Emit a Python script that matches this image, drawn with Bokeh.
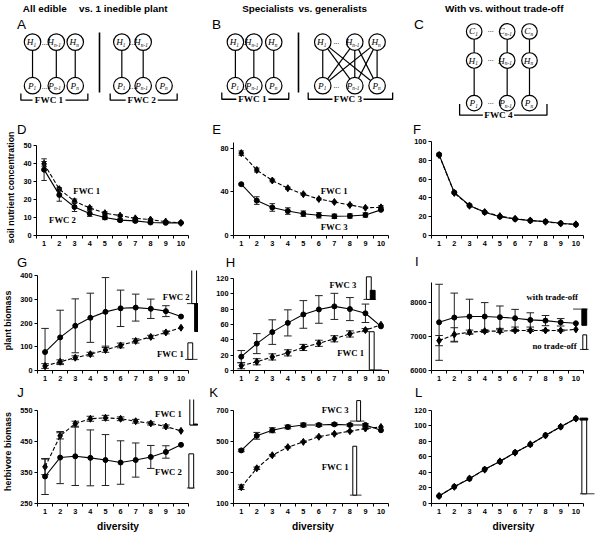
from bokeh.plotting import figure
from bokeh.layouts import column, row
from bokeh.models import Range1d, FixedTicker, Label
from bokeh.core.properties import value
from bokeh.embed import file_html
from bokeh.resources import INLINE

S = 0.97
SANS = "Liberation Sans"
SERIF = "Liberation Serif"


def px(v):
    return int(round(v * S))


def fs(v):
    return f"{v * S:.1f}px"


# ---------------------------------------------------------------- data
diversity = [1, 2, 3, 4, 5, 6, 7, 8, 9, 10]

# D  soil nutrient concentration
D_fwc1 = [39.7, 25.7, 19.0, 15.3, 12.4, 11.0, 9.5, 8.8, 7.7, 7.0]
D_fwc1_err = [1.3, 0.8, 1.2, 0.8, 0.7, 0.6, 0.5, 0.4, 0.4, 0.3]
D_fwc2 = [36.5, 22.5, 15.8, 12.2, 10.0, 8.5, 8.1, 7.2, 7.0, 7.0]
D_fwc2_err = [6.0, 3.5, 2.5, 1.6, 1.2, 0.8, 0.7, 0.5, 0.4, 0.3]
# E
E_fwc1 = [75.5, 60.0, 50.4, 43.3, 37.9, 33.4, 30.7, 28.0, 25.4, 25.8]
E_fwc1_err = [2.0, 1.8, 1.2, 1.0, 0.8, 0.8, 0.7, 0.7, 0.6, 1.5]
E_fwc3 = [47.0, 32.0, 25.7, 22.4, 20.0, 18.5, 17.6, 17.9, 18.8, 23.5]
E_fwc3_err = [0.8, 3.5, 3.5, 3.0, 2.5, 2.5, 2.0, 2.0, 2.0, 0.5]
# F
F_with = [85.9, 45.7, 32.0, 24.7, 20.0, 17.5, 15.8, 14.8, 13.0, 11.7]
F_without = [85.5, 45.2, 31.6, 24.9, 20.6, 17.8, 16.0, 14.6, 12.7, 11.9]
F_err = [1.5, 1.0, 1.0, 0.8, 0.6, 0.5, 0.4, 0.4, 0.3, 0.3]
# G  plant biomass
G_fwc2 = [78, 140, 189, 223, 248, 263, 266, 261, 251, 228]
G_fwc2_err = [100, 115, 114, 104, 145, 77, 57, 41, 23, 0]
G_fwc1 = [19, 37, 54, 69, 87, 106, 125, 142, 161, 181]
G_fwc1_err = [10, 8, 8, 8, 10, 10, 9, 7, 6, 0]
# H
H_fwc3 = [18, 35, 50, 62, 73, 79.5, 83.5, 80, 74.5, 57.5]
H_fwc3_err = [8, 13, 16, 17, 18, 18, 17, 15, 12, 0]
H_fwc1 = [6.3, 11.4, 17.7, 23, 30, 35.4, 41.3, 47.6, 52.6, 59.5]
H_fwc1_err = [4, 4, 4, 4, 4, 4, 4, 4, 2, 0]
# I
I_with = [7420, 7560, 7590, 7590, 7570, 7540, 7490, 7470, 7420, 7390]
I_with_err = [1120, 720, 510, 410, 330, 260, 210, 150, 110, 0]
I_without = [6880, 7060, 7130, 7160, 7160, 7180, 7180, 7180, 7180, 7210]
I_without_err = [150, 200, 60, 40, 40, 30, 30, 20, 20, 0]
# J  herbivore biomass
J_fwc1 = [368, 468, 507, 523, 526, 523, 515, 508, 498, 484]
J_fwc1_err = [25, 10, 8, 8, 8, 6, 6, 5, 5, 0]
J_fwc2 = [337, 398, 402, 397, 390, 382, 390, 400, 416, 439]
J_fwc2_err = [58, 84, 94, 90, 82, 70, 55, 37, 20, 0]
# K
K_fwc3 = [442, 536, 572, 593, 606, 606, 610, 606, 606, 572]
K_fwc3_err = [8, 22, 16, 12, 12, 10, 8, 8, 8, 0]
K_fwc1 = [205, 327, 411, 463, 497, 530, 549, 566, 583, 593]
K_fwc1_err = [15, 8, 5, 5, 4, 4, 4, 4, 4, 0]
# L
L_with = [9.6, 21.7, 32, 44, 54, 65.8, 76, 88, 98.8, 109.6]
L_without = [9.8, 21.5, 32.3, 43.6, 54.3, 65.5, 76.3, 87.6, 99.0, 109.4]

# inset bars: (baseline, white bar (lo, hi), black bar (lo, hi))
G_inset = [(283, (283, 430), (165, 283)), (47, (47, 117), None)]
H_inset = [(92.6, (92.6, 122), (92.6, 104.4)), (0.8, (0.8, 50.5), None)]
I_inset = [(7809, None, (7330, 7809)), (6620, (6620, 7050), None)]
J_inset = [(503, (503, 594), (503, 506)), (300, (300, 410), None)]
K_inset = [(631, (631, 763), None), (154, (154, 469), None)]
L_inset = [(12.5, (12.5, 109.6), (107.5, 110.0))]

# ---------------------------------------------------------------- layout (reference pixels)
COLS = [dict(x0=0, x1=204, axis=37.0, k=15.67),
        dict(x0=204, x1=404, axis=240.0, k=16.0),
        dict(x0=404, x1=613, axis=444.0, k=15.67)]
TOP_H = 125
ROWS = [dict(y0=TOP_H, y1=278, ft=144, fb=243),
        dict(y0=278, y1=411, ft=278, fb=381.5),
        dict(y0=411, y1=551, ft=411, fb=518)]


def chart(ci, ri, ycal, yticks, ytop, ylabel=None, xlabel=None):
    c, r = COLS[ci], ROWS[ri]
    W = px(c["x1"]) - px(c["x0"])
    H = px(r["y1"]) - px(r["y0"])
    bl = px(c["axis"] - c["x0"])
    bt = px(r["ft"] - r["y0"])
    fh = px(r["fb"] - r["ft"])
    bb = H - bt - fh
    ymin, ymax, pmin, pmax = ycal
    dpp = (ymax - ymin) / (pmin - pmax)
    x_end = 0.5 + (W - bl) / S / c["k"]
    y_end = ymin + fh / S * dpp
    p = figure(width=W, height=H, x_range=Range1d(0.5, x_end), y_range=Range1d(ymin, y_end),
               output_backend="svg", toolbar_location=None,
               min_border_left=bl, min_border_right=0, min_border_top=bt, min_border_bottom=bb,
               outline_line_color=None, background_fill_color="white", border_fill_color="white")
    p.grid.visible = False
    xa, ya = p.xaxis[0], p.yaxis[0]
    xa.ticker = FixedTicker(ticks=diversity, minor_ticks=[i + 0.5 for i in range(0, 11)])
    xa.bounds = (0.5, 10.5)
    xa.major_tick_line_color = None
    xa.major_tick_out = 0
    xa.major_tick_in = 0
    xa.minor_tick_out = 3
    xa.minor_tick_in = 0
    xa.minor_tick_line_color = "black"
    xa.major_label_standoff = 2
    ya.ticker = FixedTicker(ticks=yticks)
    ya.bounds = (ymin, ytop)
    ya.major_tick_out = 3
    ya.major_tick_in = 0
    ya.minor_tick_line_color = None
    ya.major_label_standoff = 2
    for a in (xa, ya):
        a.axis_line_color = "black"
        a.axis_line_width = 1
        a.major_label_text_font = SANS
        a.major_label_text_font_style = "bold"
        a.major_label_text_font_size = fs(7.5)
        a.major_label_text_color = "black"
        a.axis_label_text_font = SANS
        a.axis_label_text_font_style = "bold"
        a.axis_label_text_color = "black"
    if ylabel:
        ya.axis_label = ylabel
        ya.axis_label_text_font_size = fs(9.2)
        ya.axis_label_standoff = 4
    if xlabel:
        xa.axis_label = xlabel
        xa.axis_label_text_font_size = fs(10.5)
        xa.axis_label_standoff = 4

    def xd(x):
        return 0.5 + (x - c["axis"]) / c["k"]

    def yd(y):
        return ymin + (r["fb"] - y) * dpp

    return p, xd, yd


def add_series(p, y, err, dashed, marker="circle", size=5, cap=0.22):
    p.line(diversity, y, line_color="black", line_width=1.1,
           line_dash="4 2" if dashed else "solid")
    if err is not None:
        idx = [i for i, e in enumerate(err) if e > 0]
        xs = [diversity[i] for i in idx]
        lo = [y[i] - err[i] for i in idx]
        hi = [y[i] + err[i] for i in idx]
        p.segment(xs, lo, xs, hi, line_color="#222222", line_width=1)
        p.segment([x - cap for x in xs], hi, [x + cap for x in xs], hi,
                  line_color="#222222", line_width=1)
        p.segment([x - cap for x in xs], lo, [x + cap for x in xs], lo,
                  line_color="#222222", line_width=1)
    p.scatter(diversity, y, marker=marker, size=size, fill_color="black", line_color="black")


def add_inset(p, xd, item, geom):
    base, white, black = item
    if base is not None:
        p.segment([xd(geom["l"][0])], [base], [xd(geom["l"][1])], [base],
                  line_color="#333333", line_width=1)
    if white is not None:
        p.quad(left=[xd(geom["w"][0])], right=[xd(geom["w"][1])], bottom=[white[0]], top=[white[1]],
               fill_color="white", line_color="black", line_width=1)
    if black is not None:
        p.quad(left=[xd(geom["b"][0])], right=[xd(geom["b"][1])], bottom=[black[0]], top=[black[1]],
               fill_color="black", line_color="black", line_width=1)


def add_text(p, xd, yd, txt, x, y, size=9):
    p.text([xd(x)], [yd(y)], text=[txt], text_font=value(SERIF), text_font_style="bold",
           text_font_size=fs(size), text_align="left", text_baseline="middle", text_color="black")


def add_letter(p, xd, yd, txt, x, y, side):
    """panel letter, put in a side panel of the figure so that it is not clipped to the frame"""
    p.add_layout(Label(x=xd(x), y=yd(y), text=txt, text_font=SANS, text_font_size=fs(13.5),
                       text_align="left", text_baseline="middle", text_color="black"), side)


# ---------------------------------------------------------------- top diagrams
top = figure(width=px(613), height=px(TOP_H), x_range=Range1d(0, 613), y_range=Range1d(TOP_H, 0),
             x_axis_type=None, y_axis_type=None, toolbar_location=None, output_backend="svg",
             min_border=0, outline_line_color=None, background_fill_color="white",
             border_fill_color="white")

SUBS = ["1", "n-1", "n"]
webs = []
a1 = [33, 57.5, 77]
webs.append(dict(nodes=[("H", 43, a1, [0, 1, 2]), ("P", 88, a1, [0, 1, 2])],
                 edges=[((a1[i], 43), (a1[i], 88)) for i in range(3)], r=8.5))
a2 = [125, 147, 168.5]
webs.append(dict(nodes=[("H", 43, a2, [0, 1]), ("P", 88, a2, [0, 1, 2])],
                 edges=[((a2[i], 43), (a2[i], 88)) for i in range(2)], r=8.5))
b1 = [242, 261, 281.5]
webs.append(dict(nodes=[("H", 43, b1, [0, 1, 2]), ("P", 88, b1, [0, 1, 2])],
                 edges=[((b1[i], 43), (b1[i], 88)) for i in range(3)], r=8.5))
b3 = [332, 365, 388]
webs.append(dict(nodes=[("H", 43, b3, [0, 1, 2]), ("P", 88, b3, [0, 1, 2])],
                 edges=[((b3[i], 43), (b3[j], 88)) for i in range(3) for j in range(3)], r=8.5))
c4 = [488, 522, 545]
webs.append(dict(nodes=[("C", 32, c4, [0, 1, 2]), ("H", 62, c4, [0, 1, 2]), ("P", 106, c4, [0, 1, 2])],
                 edges=[((c4[i], 32), (c4[i], 62)) for i in range(3)] +
                       [((c4[i], 62), (c4[i], 106)) for i in range(3)], r=8))

for w in webs:
    top.segment([e[0][0] for e in w["edges"]], [e[0][1] for e in w["edges"]],
                [e[1][0] for e in w["edges"]], [e[1][1] for e in w["edges"]],
                line_color="black", line_width=1.2)
    for letter, yy, xs, present in w["nodes"]:
        cx = [xs[i] for i in present]
        top.circle(cx, [yy] * len(cx), radius=w["r"], fill_color="white", line_color="black",
                   line_width=1.2)
        subs = [SUBS[i] for i in present]
        lx = [x + (1.0 if len(s) == 1 else -2.5) for x, s in zip(cx, subs)]
        top.text(lx, [yy] * len(cx), text=[letter] * len(cx), text_font=value(SERIF),
                 text_font_style="italic", text_font_size=fs(9.5), text_align="right",
                 text_baseline="middle", text_color="black")
        top.text(lx, [yy + 2.8] * len(cx), text=subs, text_font=value(SERIF),
                 text_font_style="italic", text_font_size=fs(5.5), text_align="left",
                 text_baseline="middle", text_color="black")

dots_x = [45.5, 45.5, 136, 136, 251.5, 251.5, 346, 346, 505, 505, 505]
dots_y = [46, 91, 46, 91, 46, 92, 45, 90, 33, 63, 107]
top.text(dots_x, dots_y, text=["..."] * len(dots_x), text_font=value(SERIF), text_font_size=fs(8),
         text_align="center", text_baseline="bottom", text_color="black")

top.segment([102, 307], [33, 33], [102, 307], [95, 95], line_color="black", line_width=1.6)

brackets = [(21, 90, 103, 96, 33, 67, "FWC 1", 50),
            (113, 182, 103, 96, 129, 162, "FWC 2", 145.5),
            (228, 297, 102, 95, 243, 276, "FWC 1", 259.5),
            (317, 404, 102, 95, 342, 374, "FWC 3", 358),
            (473, 563, 118.5, 107, 497, 529, "FWC 4", 513)]
for x0, x1, yb, yt, gl, gr, lab, lxc in brackets:
    top.multi_line([[x0, x0, gl], [gr, x1, x1]], [[yt, yb, yb], [yb, yb, yt]],
                   line_color="black", line_width=1.3)
    top.text([lxc], [yb], text=[lab], text_font=value(SERIF), text_font_style="bold",
             text_font_size=fs(9.5), text_align="center", text_baseline="middle", text_color="black")

titles = [("All edible", 23), ("vs. 1 inedible plant", 81), ("Specialists", 249),
          ("vs. generalists", 307), ("With vs. without trade-off", 458)]
top.text([t[1] for t in titles], [8] * len(titles), text=[t[0] for t in titles],
         text_font=value(SANS), text_font_style="bold", text_font_size=fs(10.2),
         text_align="left", text_baseline="middle", text_color="black")
top.text([17, 218, 426], [25, 25, 25], text=["A", "B", "C"], text_font=value(SANS),
         text_font_size=fs(14), text_align="left", text_baseline="middle", text_color="black")

# ---------------------------------------------------------------- charts
# D
pD, xd, yd = chart(0, 0, (0, 50, 243, 150), [0, 10, 20, 30, 40, 50], 50,
                   ylabel="soil nutrient concentration")
add_series(pD, D_fwc1, D_fwc1_err, True, "diamond", 7, 0.18)
add_series(pD, D_fwc2, D_fwc2_err, False, "circle", 5, 0.18)
add_text(pD, xd, yd, "FWC 1", 75, 197)
add_text(pD, xd, yd, "FWC 2", 50, 227)
add_letter(pD, xd, yd, "D", 17, 134, "above")
add_letter(pD, xd, yd, "G", 17, 271, "below")

# E
pE, xd, yd = chart(1, 0, (0, 80, 243, 153), [0, 40, 80], 85)
add_series(pE, E_fwc1, E_fwc1_err, True, "diamond", 7, 0.18)
add_series(pE, E_fwc3, E_fwc3_err, False, "circle", 5, 0.18)
add_text(pE, xd, yd, "FWC 1", 330, 197)
add_text(pE, xd, yd, "FWC 3", 330, 234)
add_letter(pE, xd, yd, "E", 218, 134, "above")
add_letter(pE, xd, yd, "H", 232, 271, "below")

# F
pF, xd, yd = chart(2, 0, (0, 100, 243, 146), [0, 20, 40, 60, 80, 100], 100)
add_series(pF, F_without, None, True, "diamond", 7)
add_series(pF, F_with, F_err, False, "circle", 5, 0.18)
add_letter(pF, xd, yd, "F", 425, 134, "above")
add_letter(pF, xd, yd, "I", 427, 270, "below")

# G
pG, xd, yd = chart(0, 1, (0, 400, 381.5, 284), [0, 100, 200, 300, 400], 400,
                   ylabel="plant biomass")
add_series(pG, G_fwc2, G_fwc2_err, False, "circle", 5, 0.25)
add_series(pG, G_fwc1, G_fwc1_err, True, "diamond", 7, 0.25)
add_inset(pG, xd, G_inset[0], dict(l=(192, 204), w=(197, 202), b=(200, 204)))
add_inset(pG, xd, G_inset[1], dict(l=(190, 203), w=(193, 198), b=(198, 202)))
add_text(pG, xd, yd, "FWC 2", 167, 306)
add_text(pG, xd, yd, "FWC 1", 161, 364)
add_letter(pG, xd, yd, "J", 16, 404, "below")

# H
pH, xd, yd = chart(1, 1, (0, 120, 382, 287), [0, 20, 40, 60, 80, 100, 120], 120)
add_series(pH, H_fwc3, H_fwc3_err, False, "circle", 5, 0.25)
add_series(pH, H_fwc1, H_fwc1_err, True, "diamond", 7, 0.25)
add_inset(pH, xd, H_inset[0], dict(l=(374, 387), w=(377, 382), b=(381, 386)))
add_inset(pH, xd, H_inset[1], dict(l=(380, 393), w=(380, 385), b=(385, 389)))
add_text(pH, xd, yd, "FWC 3", 339, 293)
add_text(pH, xd, yd, "FWC 1", 347, 363)
add_letter(pH, xd, yd, "K", 215, 404, "below")

# I
pI, xd, yd = chart(2, 1, (6000, 8000, 382, 312), [6000, 7000, 8000], 8600)
add_series(pI, I_with, I_with_err, False, "circle", 5, 0.25)
add_series(pI, I_without, I_without_err, True, "diamond", 7, 0.25)
add_inset(pI, xd, I_inset[0], dict(l=(590, 605), w=(599, 604), b=(599, 604)))
add_inset(pI, xd, I_inset[1], dict(l=(597, 606), w=(600, 604), b=(600, 604)))
add_text(pI, xd, yd, "with trade-off", 542, 306)
add_text(pI, xd, yd, "no trade-off", 548, 356)
add_letter(pI, xd, yd, "L", 427, 404, "below")

# J
pJ, xd, yd = chart(0, 2, (250, 550, 518, 422), [250, 350, 450, 550], 550,
                   ylabel="herbivore biomass", xlabel="diversity")
add_series(pJ, J_fwc1, J_fwc1_err, True, "diamond", 7, 0.25)
add_series(pJ, J_fwc2, J_fwc2_err, False, "circle", 5, 0.25)
add_inset(pJ, xd, J_inset[0], dict(l=(195, 204), w=(195, 199), b=(199, 203)))
add_inset(pJ, xd, J_inset[1], dict(l=(192, 200), w=(194, 199), b=(199, 203)))
add_text(pJ, xd, yd, "FWC 1", 159, 426)
add_text(pJ, xd, yd, "FWC 2", 159, 486)

# K
pK, xd, yd = chart(1, 2, (100, 700, 518, 422), [100, 300, 500, 700], 700, xlabel="diversity")
add_series(pK, K_fwc3, K_fwc3_err, False, "circle", 5, 0.22)
add_series(pK, K_fwc1, K_fwc1_err, True, "diamond", 7, 0.22)
add_inset(pK, xd, K_inset[0], dict(l=(360, 375), w=(367, 371), b=(371, 375)))
add_inset(pK, xd, K_inset[1], dict(l=(360, 372), w=(363, 367), b=(367, 371)))
add_text(pK, xd, yd, "FWC 3", 331, 422)
add_text(pK, xd, yd, "FWC 1", 331, 480)

# L
pL, xd, yd = chart(2, 2, (0, 120, 518, 422), [0, 20, 40, 60, 80, 100, 120], 120, xlabel="diversity")
add_series(pL, L_without, None, True, "diamond", 7)
add_series(pL, L_with, None, False, "circle", 5)
add_inset(pL, xd, L_inset[0], dict(l=(597, 612), w=(599, 604), b=(597, 605)))

layout = column(top, row(pD, pE, pF), row(pG, pH, pI), row(pJ, pK, pL))

open("out.html", "w").write(file_html(layout, INLINE, "food web diversity"))
